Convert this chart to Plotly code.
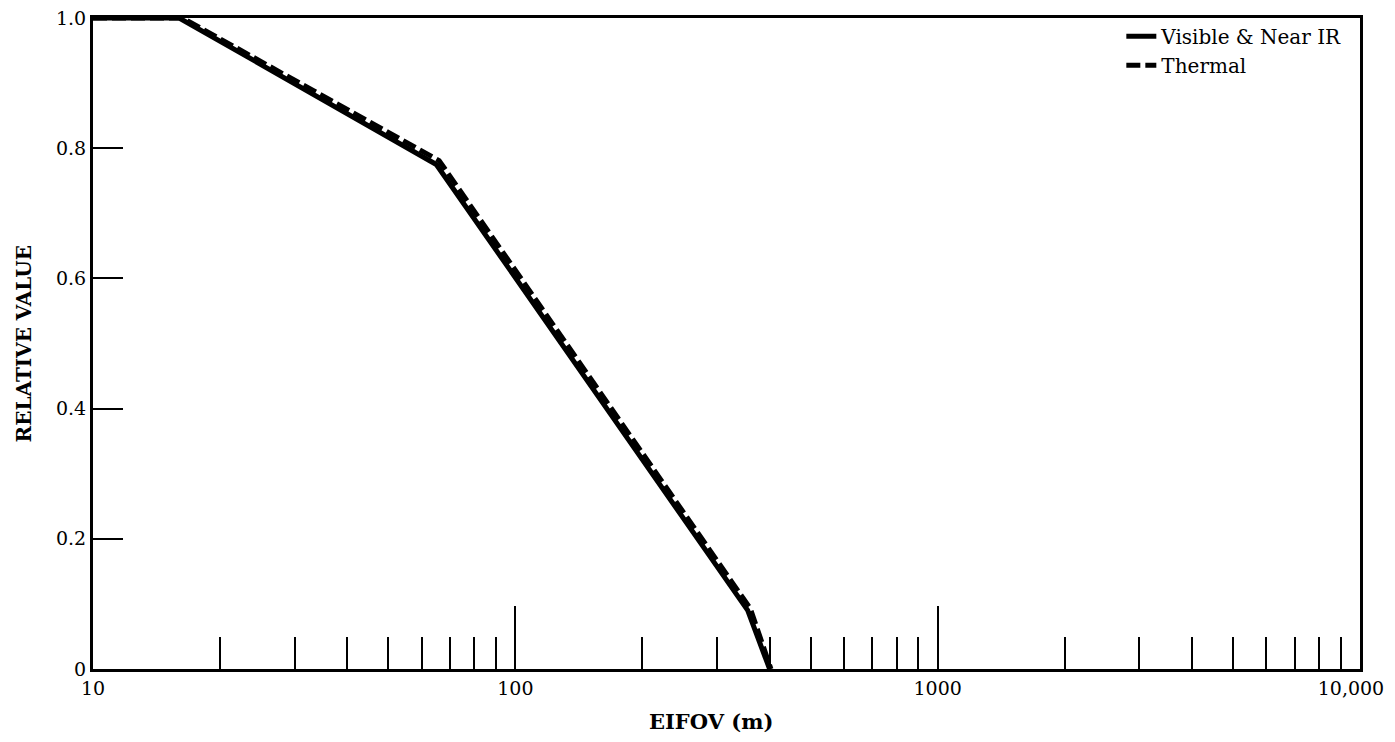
import plotly.graph_objects as go

# Data
vis_x = [10, 16, 65, 355, 400]
vis_y = [1.0, 1.0, 0.775, 0.09, 0.0]
th_x = [10, 16.3, 66, 360, 403]
th_y = [1.0, 1.0, 0.781, 0.093, 0.0]

x_major = [10, 100, 1000, 10000]
x_major_text = ["10", "100", "1000", "10,000\u00a0\u00a0\u00a0"]
x_minor = [20, 30, 40, 50, 60, 70, 80, 90,
           200, 300, 400, 500, 600, 700, 800, 900,
           2000, 3000, 4000, 5000, 6000, 7000, 8000, 9000]
y_ticks = [0, 0.2, 0.4, 0.6, 0.8, 1.0]
y_tick_text = ["0", "0.2", "0.4", "0.6", "0.8", "1.0"]

font_family = "DejaVu Serif, Liberation Serif, serif"
fs = 19

fig = go.Figure()
fig.add_trace(go.Scatter(x=vis_x, y=vis_y, mode="lines", name="Visible & Near IR",
                         line=dict(color="black", width=5)))
fig.add_trace(go.Scatter(x=th_x, y=th_y, mode="lines", name="Thermal",
                         line=dict(color="black", width=5, dash="14px,5px")))

fig.update_layout(
    width=1387, height=726,
    margin=dict(l=85, r=35, t=10, b=65, autoexpand=False),
    paper_bgcolor="white", plot_bgcolor="white",
    font=dict(family=font_family, size=fs, color="black"),
    showlegend=True,
    legend=dict(x=0.99, y=1.002, xanchor="right", yanchor="top",
                bgcolor="rgba(0,0,0,0)", font=dict(size=20, family=font_family),
                tracegroupgap=0),
    xaxis=dict(type="log", range=[1, 4], tickmode="array", tickvals=x_major,
               ticktext=x_major_text, ticks="inside", ticklen=63, tickwidth=2,
               tickcolor="black", showgrid=False, zeroline=False,
               showline=True, linewidth=3, linecolor="black", mirror=True,
               ticklabeloverflow="allow", automargin=False,
               minor=dict(tickmode="array", tickvals=x_minor, ticks="inside",
                          ticklen=32, tickwidth=2, tickcolor="black", showgrid=False),
               tickfont=dict(size=fs, family=font_family)),
    yaxis=dict(range=[0, 1], tickmode="array", tickvals=y_ticks, ticktext=y_tick_text,
               ticks="inside", ticklen=30, tickwidth=2, tickcolor="black",
               showgrid=False, zeroline=False, showline=True, linewidth=3,
               linecolor="black", mirror=True, automargin=False,
               ticklabeloverflow="allow",
               tickfont=dict(size=fs, family=font_family)),
    annotations=[
        dict(text="<b>EIFOV (m)</b>", xref="paper", yref="paper", x=0.488, y=-0.081,
             xanchor="center", yanchor="middle", showarrow=False,
             font=dict(size=21, family=font_family)),
        dict(text="<b>RELATIVE VALUE</b>", xref="paper", yref="paper", x=-0.0545, y=0.5,
             xanchor="center", yanchor="middle", textangle=-90, showarrow=False,
             font=dict(size=20, family=font_family)),
    ],
)

fig.write_html("out.html")
